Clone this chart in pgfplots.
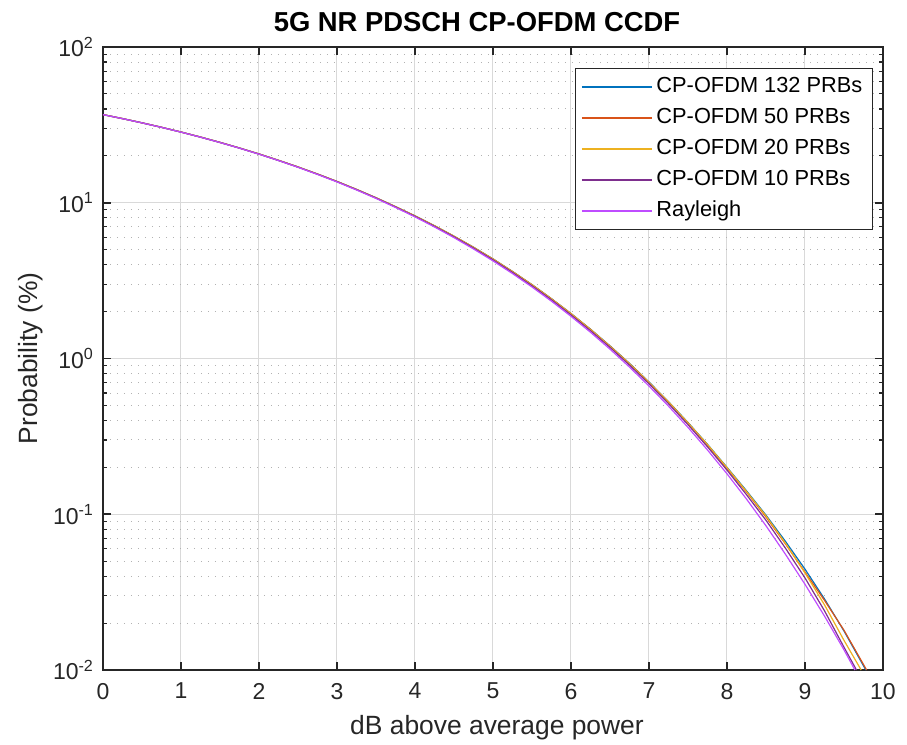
\documentclass[border=0pt]{standalone}
\usepackage{fontspec}
\setmainfont{Liberation Sans}
\usepackage{pgfplots}
\usepackage{pgfplotstable}
\pgfplotsset{compat=1.18}
\usetikzlibrary{calc}

\definecolor{c1}{rgb}{0,0.447,0.741}
\definecolor{c2}{rgb}{0.85,0.325,0.098}
\definecolor{c3}{rgb}{0.929,0.694,0.125}
\definecolor{c4}{rgb}{0.494,0.184,0.556}
\definecolor{c5}{rgb}{0.75,0.3,1}
\definecolor{axc}{rgb}{0.15,0.15,0.15}

\pgfplotstableread{
x     r        a       b       c       d
0     36.79    36.80   36.80   36.80   36.79
0.25  34.67    34.70   34.70   34.70   34.68
0.5   32.56    32.60   32.60   32.60   32.58
0.75  30.47    30.51   30.51   30.51   30.49
1     28.40    28.45   28.45   28.45   28.42
1.25  26.36    26.41   26.41   26.41   26.38
1.5   24.35    24.41   24.41   24.41   24.38
1.75  22.40    22.46   22.46   22.46   22.43
2     20.50    20.57   20.57   20.57   20.53
2.25  18.66    18.73   18.73   18.73   18.69
2.5   16.89    16.97   16.97   16.97   16.93
2.75  15.20    15.29   15.29   15.29   15.25
3     13.60    13.70   13.69   13.70   13.66
3.25  12.08    12.18   12.17   12.18   12.14
3.5   10.66    10.77   10.76   10.76   10.72
3.75  9.33     9.44    9.43    9.43    9.39
4     8.11     8.24    8.23    8.23    8.18
4.25  6.99     7.12    7.11    7.11    7.06
4.5   5.97     6.10    6.09    6.09    6.04
4.75  5.05     5.18    5.17    5.17    5.12
5     4.232    4.36    4.35    4.35    4.30
5.25  3.509    3.62    3.615   3.61    3.57
5.5   2.878    2.98    2.975   2.972   2.93
5.75  2.332    2.42    2.415   2.412   2.38
6     1.866    1.944   1.940   1.938   1.905
6.25  1.474    1.542   1.537   1.535   1.508
6.5   1.148    1.205   1.200   1.198   1.178
6.75  0.881    0.930   0.926   0.925   0.907
7     0.6654   0.706   0.703   0.702   0.688
7.25  0.4946   0.528   0.525   0.526   0.513
7.5   0.3610   0.388   0.385   0.386   0.376
7.75  0.2586   0.281   0.278   0.280   0.271
8     0.1818   0.200   0.197   0.199   0.192
8.25  0.1252   0.1415  0.139   0.140   0.1335
8.5   0.0843   0.0986  0.0960  0.0975  0.0915
8.75  0.0553   0.0669  0.0645  0.0650  0.0605
9     0.0355   0.0444  0.0425  0.0420  0.0390
9.25  0.0222   0.0286  0.0280  0.0262  0.0240
9.5   0.01347  0.0178  0.0180  0.0155  0.0140
9.64  0.0100   nan     nan     nan     nan
9.66  nan      nan     nan     nan     0.0100
9.72  nan      nan     nan     0.0100  nan
9.78  nan      0.0100  nan     nan     nan
9.79  nan      nan     0.0100  nan     nan
}\ccdf

\begin{document}
\begin{tikzpicture}
\begin{axis}[
  scale only axis,
  width=390pt, height=311.5pt,
  ymode=log,
  xmin=0, xmax=10, ymin=0.01, ymax=100,
  xtick={0,1,...,10},
  ytick={0.01,0.1,1,10,100},
  yticklabels={10\textsuperscript{-2},10\textsuperscript{-1},10\textsuperscript{0},10\textsuperscript{1},10\textsuperscript{2}},
  minor xtick={},
  tick align=inside,
  tick pos=both,
  major tick length=3.8pt,
  minor tick length=2.2pt,
  every tick/.style={axc, line width=0.8pt},
  every minor tick/.style={axc, line width=0.6pt},
  axis line style={axc, line width=1pt},
  grid=both,
  major grid style={gray!30, line width=0.5pt},
  minor grid style={gray!60, line width=0.5pt, dash pattern=on 0.5pt off 3pt},
  /pgf/number format/assume math mode=true,
  ticklabel style={font=\fontsize{11.5}{14}\selectfont, text=axc},
  xticklabel style={yshift=-3pt},
  yticklabel style={xshift=-1pt},
  xlabel={dB above average power},
  ylabel={Probability (\%)},
  label style={font=\fontsize{13.2}{15}\selectfont, text=axc},
  xlabel style={yshift=-1pt, xshift=2pt},
  ylabel style={yshift=-2pt},
  title={\bfseries 5G NR PDSCH CP-OFDM CCDF},
  title style={font=\fontsize{13.7}{15}\selectfont, yshift=-2pt, xshift=-8pt},
  unbounded coords=discard,
  legend cell align=left,
  legend style={at={(1,1)}, anchor=north east, xshift=-5pt, yshift=-10.5pt,
    draw=axc, line width=0.6pt, fill=white,
    font=\fontsize{10.9}{13}\selectfont,
    nodes={inner sep=2pt, text height=8pt, text depth=2.5pt},
    row sep=1pt, inner xsep=3pt, inner ysep=2pt},
  legend image code/.code={\draw[#1] (0pt,0pt) -- (35pt,0pt);},
  every axis plot/.append style={line width=0.6pt},
]
\coordinate (ll) at (rel axis cs:0,0);
\coordinate (ur) at (rel axis cs:1,1);
\addplot[c1] table[x=x,y=a] {\ccdf};
\addlegendentry{CP-OFDM 132 PRBs}
\addplot[c2] table[x=x,y=b] {\ccdf};
\addlegendentry{CP-OFDM 50 PRBs}
\addplot[c3] table[x=x,y=c] {\ccdf};
\addlegendentry{CP-OFDM 20 PRBs}
\addplot[c4] table[x=x,y=d] {\ccdf};
\addlegendentry{CP-OFDM 10 PRBs}
\addplot[c5] table[x=x,y=r] {\ccdf};
\addlegendentry{Rayleigh}
\end{axis}
\pgfresetboundingbox
\path ($(ll)+(-51.5pt,-37.5pt)$) rectangle ($(ur)+(12pt,23.5pt)$);
\end{tikzpicture}
\end{document}
